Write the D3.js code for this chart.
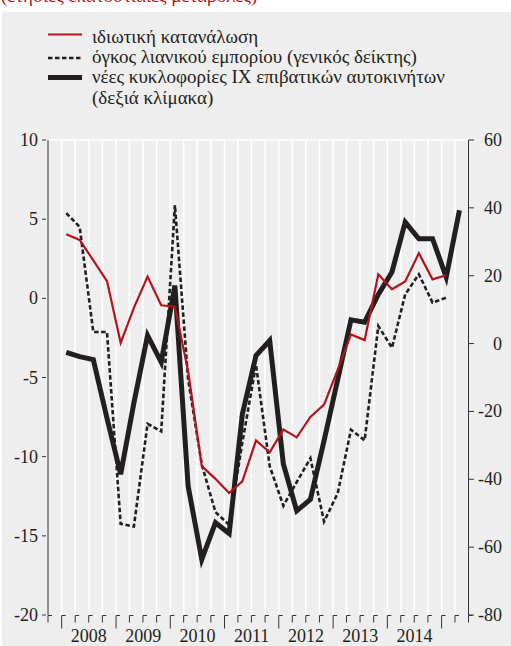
<!DOCTYPE html>
<html>
<head>
<meta charset="utf-8">
<script src="https://cdn.jsdelivr.net/npm/d3@7"></script>
<style>
  html, body { margin: 0; padding: 0; background: #fff; }
  svg { display: block; font-family: "Liberation Serif", "DejaVu Serif", serif; }
</style>
</head>
<body>
<svg id="chart"></svg>
<script>
// quarterly data, plotted at the middle month of each quarter
const quarters = [
  "2008Q1","2008Q2","2008Q3","2008Q4","2009Q1","2009Q2","2009Q3","2009Q4",
  "2010Q1","2010Q2","2010Q3","2010Q4","2011Q1","2011Q2","2011Q3","2011Q4",
  "2012Q1","2012Q2","2012Q3","2012Q4","2013Q1","2013Q2","2013Q3","2013Q4",
  "2014Q1","2014Q2","2014Q3","2014Q4","2015Q1","2015Q2"
]
const privateConsumption = [
  4.05, 3.69, 2.4, 1.09, -2.81, -0.6, 1.37, -0.44,
  -0.53, -4.6, -10.6, -11.4, -12.3, -11.56, -8.97, -9.73,
  -8.29, -8.78, -7.49, -6.71, -4.5, -2.28, -2.64, 1.52,
  0.57, 1.06, 2.85, 1.2, 1.46, null
]
const retailVolume = [
  5.38, 4.51, -2.13, -2.13, -14.24, -14.41, -7.93, -8.4,
  5.89, -5.1, -10.5, -13.5, -14.3, -9.1, -4.2, -10.6,
  -13.1, -11.6, -10.1, -14.1, -12.3, -8.3, -8.97, -1.75,
  -3.12, 0.25, 1.52, -0.27, 0.04, null
]
const newCars = [
  -2.57, -3.84, -4.73, -22, -38.5, -17.5, 2.4, -5.5,
  17.1, -42, -63.6, -52.8, -56, -20.8, -3.5, 0.9,
  -35.5, -49.3, -45.9, -28.6, -10.6, 7.0, 6.3, 14.5,
  21.1, 35.8, 30.9, 30.9, 19.6, 39.3
]
const leftTicks = [10, 5, 0, -5, -10, -15, -20]
const rightTicks = [60, 40, 20, 0, -20, -40, -60, -80]
const years = [2008, 2009, 2010, 2011, 2012, 2013, 2014]

const legendLabels = [
  "ιδιωτική κατανάλωση",
  "όγκος λιανικού εμπορίου (γενικός δείκτης)",
  "νέες κυκλοφορίες ΙΧ επιβατικών αυτοκινήτων",
  "(δεξιά κλίμακα)"
]
const subtitle = "(ετήσιες εκατοστιαίες μεταβολές)"

const width = 511, height = 646
const red = "#b3141c", ink = "#231f20", bg = "#eeeeee"

const svg = d3.select("#chart").attr("width", width).attr("height", height)

const qDate = (s) => new Date(+s.slice(0, 4), (+s.slice(5) - 1) * 3 + 1, 1)

const x = d3.scaleTime()
  .domain([new Date(2007, 9, 1), new Date(2015, 6, 1)])
  .range([48, 468.5])
const yL = d3.scaleLinear().domain([-20, 10]).range([615, 140])
const yR = d3.scaleLinear().domain([-80, 60]).range([615, 140])

// background
svg.append("text")
  .attr("x", 1).attr("y", 2)
  .attr("font-size", 19).attr("fill", red)
  .text(subtitle)
svg.append("rect")
  .attr("x", 2).attr("y", 12).attr("width", width - 2).attr("height", height - 12)
  .attr("fill", bg)

// legend
const legendY = [34.5, 58, 77.5]
svg.append("line").attr("x1", 48).attr("x2", 82).attr("y1", legendY[0]).attr("y2", legendY[0])
  .attr("stroke", red).attr("stroke-width", 2.2)
svg.append("line").attr("x1", 48).attr("x2", 82).attr("y1", legendY[1]).attr("y2", legendY[1])
  .attr("stroke", ink).attr("stroke-width", 2.6).attr("stroke-dasharray", "4.5,2.5")
svg.append("line").attr("x1", 48).attr("x2", 82).attr("y1", legendY[2]).attr("y2", legendY[2])
  .attr("stroke", ink).attr("stroke-width", 5)
svg.selectAll("text.leg")
  .data(legendLabels)
  .enter().append("text")
  .attr("class", "leg")
  .attr("x", 92)
  .attr("y", (d, i) => [43, 63.3, 83.3, 104][i])
  .attr("font-size", 19).attr("fill", ink)
  .text(d => d)

// quarter gridlines
const qTicks = x.ticks(d3.timeMonth.every(3))
svg.append("g").selectAll("line")
  .data(qTicks.filter(d => +d > +x.domain()[0] && +d < +x.domain()[1]))
  .enter().append("line")
  .attr("x1", d => x(d)).attr("x2", d => x(d))
  .attr("y1", 140).attr("y2", 615)
  .attr("stroke", "#fff").attr("stroke-width", 1.6)
svg.append("line")
  .attr("x1", 48).attr("x2", 468.5).attr("y1", 140).attr("y2", 140)
  .attr("stroke", "#fff").attr("stroke-width", 1.6)

// axes
const axisColor = "#333"
svg.append("line").attr("x1", 48).attr("x2", 48).attr("y1", 140).attr("y2", 615)
  .attr("stroke", axisColor).attr("stroke-width", 1)
svg.append("line").attr("x1", 468.5).attr("x2", 468.5).attr("y1", 140).attr("y2", 615)
  .attr("stroke", axisColor).attr("stroke-width", 1)

const left = svg.append("g")
left.selectAll("line").data(leftTicks).enter().append("line")
  .attr("x1", 42).attr("x2", 46)
  .attr("y1", d => yL(d)).attr("y2", d => yL(d))
  .attr("stroke", axisColor)
left.selectAll("text").data(leftTicks).enter().append("text")
  .attr("x", 38).attr("y", d => yL(d) + 6)
  .attr("text-anchor", "end").attr("font-size", 18).attr("fill", ink)
  .text(d => d)

const right = svg.append("g")
right.selectAll("line").data(rightTicks).enter().append("line")
  .attr("x1", 468.5).attr("x2", 474)
  .attr("y1", d => yR(d)).attr("y2", d => yR(d))
  .attr("stroke", axisColor)
right.selectAll("text").data(rightTicks).enter().append("text")
  .attr("x", 502).attr("y", d => yR(d) + 6)
  .attr("text-anchor", "end").attr("font-size", 18).attr("fill", ink)
  .text(d => d)

// bottom ticks
const bottom = svg.append("g").attr("stroke", "#333").attr("fill", "none")
bottom.selectAll("path").data(qTicks).enter().append("path")
  .attr("d", d => {
    const px = x(d)
    const len = d.getMonth() === 0 ? 13 : 7
    return "M" + (px + 4) + ",615.5H" + px + "V" + (615.5 + len)
  })
svg.selectAll("text.year").data(years).enter().append("text")
  .attr("class", "year")
  .attr("x", d => (x(new Date(d, 0, 1)) + x(new Date(d + 1, 0, 1))) / 2)
  .attr("y", 642)
  .attr("text-anchor", "middle").attr("font-size", 18).attr("fill", ink)
  .text(d => d)

// series
const rows = quarters.map((q, i) => ({
  date: qDate(q), pc: privateConsumption[i], rv: retailVolume[i], nc: newCars[i]
}))

const lineL = (key) => d3.line()
  .defined(d => d[key] != null)
  .x(d => x(d.date)).y(d => yL(d[key]))

svg.append("path").datum(rows)
  .attr("d", d3.line().defined(d => d.nc != null).x(d => x(d.date)).y(d => yR(d.nc)))
  .attr("fill", "none").attr("stroke", ink).attr("stroke-width", 5)
  .attr("stroke-linejoin", "miter")
svg.append("path").datum(rows)
  .attr("d", lineL("rv"))
  .attr("fill", "none").attr("stroke", ink).attr("stroke-width", 2.6)
  .attr("stroke-dasharray", "4.5,2.5")
svg.append("path").datum(rows)
  .attr("d", lineL("pc"))
  .attr("fill", "none").attr("stroke", red).attr("stroke-width", 2.2)
</script>
</body>
</html>
